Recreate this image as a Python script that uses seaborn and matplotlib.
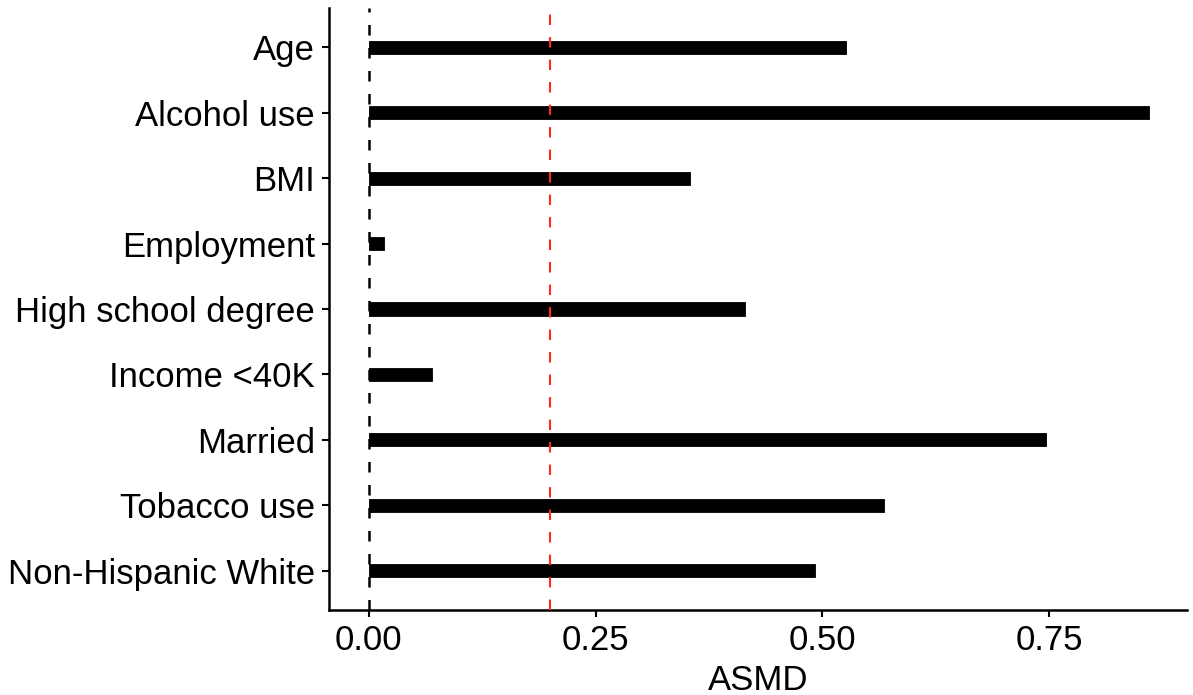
import matplotlib
matplotlib.use("Agg")
import matplotlib.pyplot as plt
import seaborn as sns
import pandas as pd

covariates = ["Age", "Alcohol use", "BMI", "Employment", "High school degree",
              "Income <40K", "Married", "Tobacco use", "Non-Hispanic White"]
asmd = [0.526, 0.860, 0.354, 0.017, 0.415, 0.070, 0.746, 0.568, 0.492]
threshold = 0.2
x_ticks = [0.00, 0.25, 0.50, 0.75]

df = pd.DataFrame({"covariate": covariates, "ASMD": asmd})

sns.set_theme(style="white")
plt.rcParams["font.family"] = ["Liberation Sans", "DejaVu Sans"]

fig = plt.figure(figsize=(11.93, 6.95), dpi=100)
ax = fig.add_axes([329 / 1193, 1 - 610 / 695, (1187 - 329) / 1193, (610 - 8) / 695])

sns.barplot(data=df, x="ASMD", y="covariate", order=covariates, color="black",
            width=0.2, saturation=1, ax=ax, zorder=2, linewidth=0.6,
            edgecolor="black")

ax.axvline(0, color="black", linestyle=(0, (4.2, 5)), linewidth=1.8, zorder=1)
ax.axvline(threshold, color="#ff2a1a", linestyle=(0, (5, 5.8)), linewidth=1.5, zorder=3)

ax.set_xlim(-0.044, 0.902)
ax.set_ylim(len(covariates) - 0.4, -0.6)
ax.set_xticks(x_ticks)
ax.set_xticklabels([f"{t:.2f}" for t in x_ticks])
ax.set_xlabel("ASMD", fontsize=25, color="black", labelpad=5)
ax.set_ylabel("")

for side in ["top", "right"]:
    ax.spines[side].set_visible(False)
for side in ["left", "bottom"]:
    ax.spines[side].set_color("black")
    ax.spines[side].set_linewidth(1.8)

ax.tick_params(axis="both", which="major", labelsize=25, labelcolor="black",
               color="black", length=5, width=1.5, direction="out",
               left=True, bottom=True, pad=5)

fig.savefig("out.png", dpi=100)
